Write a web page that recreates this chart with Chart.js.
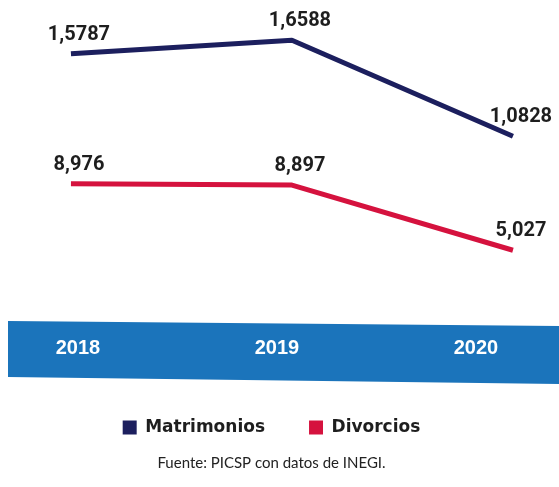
<!DOCTYPE html>
<html>
<head>
<meta charset="utf-8">
<script src="https://cdn.jsdelivr.net/npm/chart.js@4/dist/chart.umd.min.js"></script>
<style>
  html, body { margin: 0; padding: 0; background: #ffffff; }
  #contenedor { width: 559px; height: 487px; }
</style>
</head>
<body>
<div id="contenedor"><canvas id="grafica"></canvas></div>
<script>
// Datos
const anios = [2018, 2019, 2020];
const matrimonios = [15787, 16588, 10828];
const divorcios = [8976, 8897, 5027];
// Etiquetas tal como aparecen impresas
const etiquetasMatrimonios = ["1,5787", "1,6588", "1,0828"];
const etiquetasDivorcios = ["8,976", "8,897", "5,027"];

const azulMarino = "#1c1f5e";
const rojo = "#d5123e";
const azulBanda = "#1b74bb";

// Banda azul detras de los años
const banda = {
  id: "banda",
  beforeDraw(chart) {
    const s = chart.scales.xAnio;
    const ctx = chart.ctx;
    const alto = 56;
    ctx.save();
    ctx.fillStyle = azulBanda;
    ctx.beginPath();
    ctx.moveTo(8, s.top);
    ctx.lineTo(chart.width, s.top + 5);
    ctx.lineTo(chart.width, s.top + alto + 7);
    ctx.lineTo(8, s.top + alto);
    ctx.closePath();
    ctx.fill();
    ctx.restore();
  }
};

// Numeros encima de cada punto
const etiquetasValores = {
  id: "etiquetasValores",
  afterDatasetsDraw(chart) {
    const ctx = chart.ctx;
    ctx.save();
    ctx.font = "bold 20px Roboto";
    ctx.fillStyle = "#1e1e1e";
    ctx.textAlign = "center";
    ctx.textBaseline = "middle";
    chart.data.datasets.forEach((ds, i) => {
      chart.getDatasetMeta(i).data.forEach((p, j) => {
        ctx.fillText(ds.etiquetas[j], p.x + 8, p.y - 19);
      });
    });
    ctx.restore();
  }
};

new Chart(document.querySelector("#grafica"), {
  type: "line",
  data: {
    datasets: [
      {
        label: "Matrimonios",
        data: anios.map((a, i) => ({ x: a, y: matrimonios[i] })),
        etiquetas: etiquetasMatrimonios,
        borderColor: azulMarino,
        backgroundColor: azulMarino,
        borderWidth: 5,
        pointRadius: 0,
        borderJoinStyle: "round",
        yAxisID: "yM"
      },
      {
        label: "Divorcios",
        data: anios.map((a, i) => ({ x: a, y: divorcios[i] })),
        etiquetas: etiquetasDivorcios,
        borderColor: rojo,
        backgroundColor: rojo,
        borderWidth: 5,
        pointRadius: 0,
        borderJoinStyle: "round",
        yAxisID: "yD"
      }
    ]
  },
  options: {
    responsive: true,
    maintainAspectRatio: false,
    animation: false,
    layout: { padding: { top: 0, left: 0, right: 16, bottom: 0 } },
    scales: {
      x: { type: "linear", display: false, min: 2017.679, max: 2020.136 },
      xAnio: {
        type: "linear",
        position: "bottom",
        min: 2017.608,
        max: 2020.337,
        afterBuildTicks: (s) => { s.ticks = anios.map(a => ({ value: a })); },
        grid: { display: false, drawTicks: false },
        border: { display: false },
        ticks: {
          padding: 15,
          color: "#ffffff",
          font: { family: "Liberation Sans", size: 20, weight: "bold" },
          callback: (v) => String(v),
          maxRotation: 0
        }
      },
      yM: { type: "linear", display: false, min: -250, max: 19006 },
      yD: { type: "linear", display: false, min: 825, max: 19887 }
    },
    plugins: {
      legend: {
        position: "bottom",
        labels: {
          boxWidth: 14,
          boxHeight: 14,
          padding: 44,
          color: "#1e1e1e",
          font: { family: "DejaVu Sans", size: 17, weight: "bold" },
          generateLabels: (chart) =>
            Chart.defaults.plugins.legend.labels.generateLabels(chart).map(l => ({ ...l, lineWidth: 0 }))
        }
      },
      subtitle: {
        display: true,
        position: "bottom",
        text: "Fuente: PICSP con datos de INEGI.",
        color: "#222222",
        font: { family: "Lato", size: 15, weight: "normal" },
        padding: { top: 8, bottom: 15 }
      },
      tooltip: { enabled: false }
    }
  },
  plugins: [banda, etiquetasValores]
});
</script>
</body>
</html>
